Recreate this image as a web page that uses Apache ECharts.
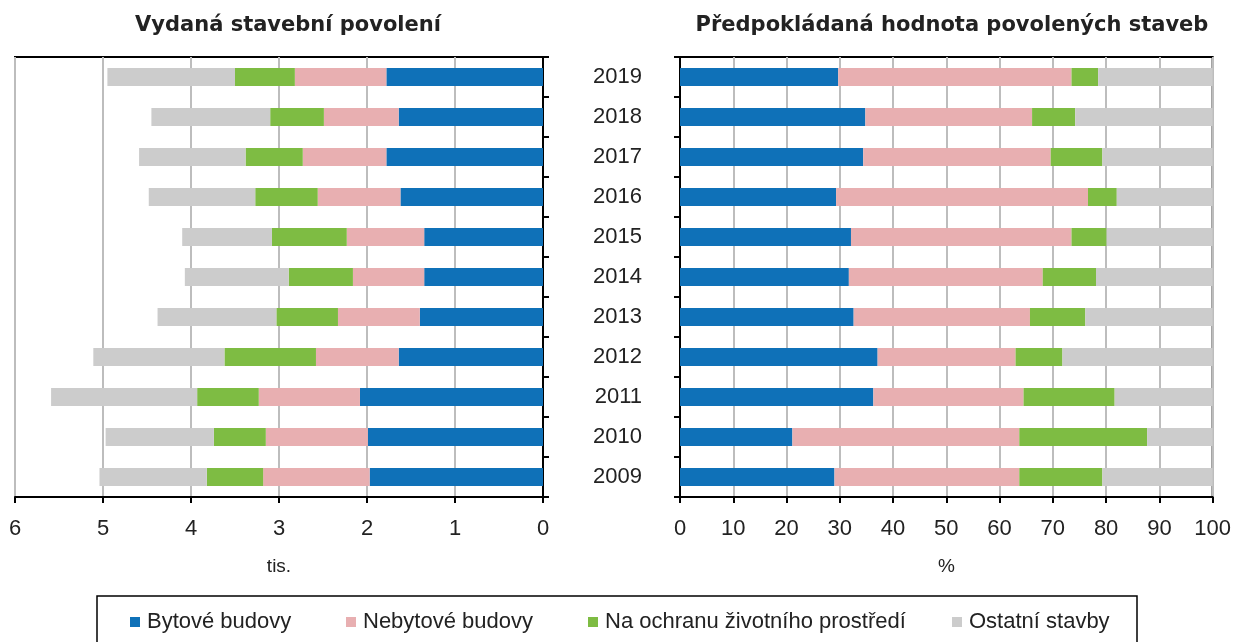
<!DOCTYPE html>
<html>
<head>
<meta charset="utf-8">
<script src="https://cdn.jsdelivr.net/npm/echarts@6/dist/echarts.min.js"></script>
<style>
  html, body { margin: 0; padding: 0; background: #fff; }
  #chart { width: 1234px; height: 642px; }
</style>
</head>
<body>
<div id="chart"></div>
<script>
// roky (odspodu nahoru)
var years = ['2009', '2010', '2011', '2012', '2013', '2014', '2015', '2016', '2017', '2018', '2019'];
var seriesNames = ['Bytové budovy', 'Nebytové budovy', 'Na ochranu životního prostředí', 'Ostatní stavby'];
var colors = ['#0F71B8', '#E8AFB1', '#7EBC43', '#CCCCCC'];

// vydaná stavební povolení (tis.)
var countBytove    = [1.97, 1.99, 2.08, 1.64, 1.40, 1.35, 1.35, 1.62, 1.78, 1.64, 1.78];
var countNebytove  = [1.21, 1.16, 1.15, 0.94, 0.93, 0.81, 0.88, 0.94, 0.95, 0.85, 1.04];
var countOchrana   = [0.64, 0.59, 0.70, 1.04, 0.70, 0.73, 0.85, 0.71, 0.65, 0.61, 0.68];
var countOstatni   = [1.22, 1.23, 1.66, 1.49, 1.35, 1.18, 1.02, 1.21, 1.21, 1.35, 1.45];

// předpokládaná hodnota (%)
var valueBytove    = [29.0, 21.1, 36.3, 37.1, 32.6, 31.7, 32.1, 29.3, 34.4, 34.8, 29.7];
var valueNebytove  = [34.7, 42.6, 28.2, 25.9, 33.1, 36.4, 41.4, 47.3, 35.2, 31.3, 43.8];
var valueOchrana   = [15.6, 24.0, 17.1, 8.8, 10.4, 10.0, 6.6, 5.4, 9.7, 8.1, 5.0];
var valueOstatni   = [20.7, 12.3, 18.4, 28.2, 23.9, 21.9, 19.9, 18.0, 20.7, 25.8, 21.5];

var countData = [countBytove, countNebytove, countOchrana, countOstatni];
var valueData = [valueBytove, valueNebytove, valueOchrana, valueOstatni];

var chart = echarts.init(document.getElementById('chart'));
var font = 'Liberation Sans, Arial, sans-serif';
var titleFont = 'DejaVu Sans, sans-serif';
var textColor = '#222';

var series = [];
seriesNames.forEach(function (name, i) {
    series.push({
        name: name, type: 'bar', stack: 'count',
        xAxisIndex: 0, yAxisIndex: 0,
        barWidth: 18,
        itemStyle: { color: colors[i] },
        data: countData[i]
    });
});
seriesNames.forEach(function (name, i) {
    series.push({
        name: name, type: 'bar', stack: 'value',
        xAxisIndex: 1, yAxisIndex: 1,
        barWidth: 18,
        itemStyle: { color: colors[i] },
        data: valueData[i]
    });
});

// legenda - každá položka zvlášť
var legendLeft = [130, 346, 588, 952];
var legends = seriesNames.map(function (name, i) {
    return {
        data: [name],
        left: legendLeft[i],
        top: 611,
        padding: 0,
        itemWidth: 10,
        itemHeight: 10,
        itemGap: 0,
        icon: 'rect',
        selectedMode: false,
        textStyle: { fontFamily: font, fontSize: 22, color: textColor, padding: [0, 0, 0, 2] }
    };
});

var axisLabelStyle = { fontFamily: font, fontSize: 22, color: textColor };

option = {
    animation: false,
    backgroundColor: '#fff',
    title: [{
        text: 'Vydaná stavební povolení',
        left: 283, top: 10, textAlign: 'center',
        textStyle: { fontFamily: titleFont, fontSize: 21, fontWeight: 'bold', color: textColor }
    }, {
        text: 'Předpokládaná hodnota povolených staveb',
        left: 947, top: 10, textAlign: 'center',
        textStyle: { fontFamily: titleFont, fontSize: 21, fontWeight: 'bold', color: textColor }
    }],
    legend: legends,
    grid: [{
        left: 15, top: 57, width: 528, height: 440,
        show: true, borderColor: '#000', borderWidth: 2
    }, {
        left: 680, top: 57, width: 533, height: 440,
        show: true, borderColor: '#000', borderWidth: 2
    }],
    xAxis: [{
        gridIndex: 0, type: 'value', min: 0, max: 6, interval: 1, inverse: true,
        name: 'tis.', nameLocation: 'middle', nameGap: 60,
        nameTextStyle: { fontFamily: font, fontSize: 19, color: textColor },
        axisLine: { show: true, lineStyle: { color: '#000', width: 2 } },
        axisTick: { show: true, length: 6, lineStyle: { color: '#000', width: 2 } },
        axisLabel: Object.assign({ margin: 21 }, axisLabelStyle),
        splitLine: { show: true, lineStyle: { color: '#BDBDBD', width: 2 } }
    }, {
        gridIndex: 1, type: 'value', min: 0, max: 100, interval: 10,
        name: '%', nameLocation: 'middle', nameGap: 60,
        nameTextStyle: { fontFamily: font, fontSize: 19, color: textColor },
        axisLine: { show: true, lineStyle: { color: '#000', width: 2 } },
        axisTick: { show: true, length: 6, lineStyle: { color: '#000', width: 2 } },
        axisLabel: Object.assign({ margin: 21 }, axisLabelStyle),
        splitLine: { show: true, lineStyle: { color: '#BDBDBD', width: 2 } }
    }],
    yAxis: [{
        gridIndex: 0, type: 'category', data: years, position: 'right',
        axisLine: { show: true, lineStyle: { color: '#000', width: 2 } },
        axisTick: { show: true, length: 6, lineStyle: { color: '#000', width: 2 } },
        axisLabel: { show: false },
        splitLine: { show: false }
    }, {
        gridIndex: 1, type: 'category', data: years,
        axisLine: { show: true, lineStyle: { color: '#000', width: 2 } },
        axisTick: { show: true, length: 6, lineStyle: { color: '#000', width: 2 } },
        axisLabel: Object.assign({ margin: 38, padding: [8, 0, 0, 0] }, axisLabelStyle),
        splitLine: { show: false }
    }],
    graphic: [{
        type: 'rect',
        shape: { x: 97, y: 596, width: 1040, height: 60 },
        style: { fill: 'none', stroke: '#000', lineWidth: 1.5 }
    }],
    series: series
};
chart.setOption(option);
</script>
</body>
</html>
